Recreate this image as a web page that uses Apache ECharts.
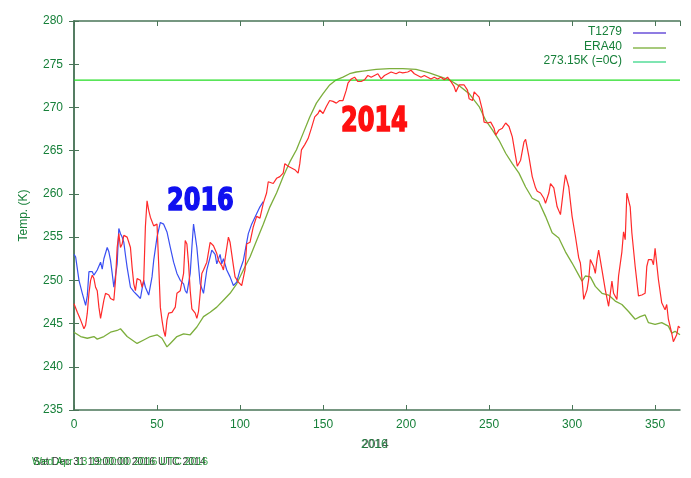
<!DOCTYPE html>
<html>
<head>
<meta charset="utf-8">
<script src="https://cdn.jsdelivr.net/npm/echarts@6/dist/echarts.min.js"></script>
<style>
  html, body { margin: 0; padding: 0; background: #ffffff; }
  #main { width: 691px; height: 478px; }
</style>
</head>
<body>
<div id="main"></div>
<script>
// 2016 run (T1279), days 0..114
var t2016Days = [0, 1, 3, 5, 7, 8, 9, 11, 12, 13, 14, 16, 17, 18, 20, 21, 22, 23, 24, 25, 26, 27, 28, 29, 30, 31, 32, 34, 36, 38, 40, 41, 42, 43, 45, 47, 48, 50, 52, 54, 56, 58, 60, 62, 64, 66, 67, 68, 70, 71, 72, 73, 74, 76, 78, 80, 82, 83, 85, 86, 88, 89, 90, 92, 94, 96, 98, 100, 102, 105, 107, 110, 112, 114];
var t2016Temps = [253, 252.7, 250, 248.5, 247.1, 248.2, 251, 251, 250.6, 250.4, 251.2, 252.1, 251.3, 252.5, 253.8, 253.3, 252.3, 250.8, 249.2, 249, 251.9, 256, 255.4, 255, 254.4, 252.9, 251.5, 249.2, 248.7, 248.3, 247.9, 249, 250, 249.2, 248.3, 250.4, 252.3, 255, 256.7, 256.5, 255.6, 253.8, 252.1, 250.8, 250, 249.6, 248.8, 248.5, 250.8, 253.8, 256.5, 256.7, 253.8, 249.6, 248.5, 251.2, 252.7, 253.5, 253, 251.9, 253, 251.9, 252.5, 251.2, 250.4, 249.4, 249.8, 251.2, 252.3, 255.4, 256.5, 257.7, 258.5, 259.1];

// 2014, whole year
var t2014Days = [0, 2, 4, 6, 7, 8, 9, 10, 11, 12, 13, 14, 15, 16, 17, 18, 19, 20, 21, 22, 24, 25, 26, 27, 28, 29, 30, 32, 33, 34, 35, 36, 37, 38, 40, 41, 42, 43, 44, 45, 46, 48, 49, 50, 51, 52, 53, 54, 55, 56, 57, 59, 61, 62, 64, 66, 67, 68, 69, 70, 71, 73, 74, 75, 76, 77, 78, 80, 82, 84, 85, 86, 87, 89, 90, 91, 93, 94, 96, 97, 99, 101, 102, 103, 104, 106, 108, 110, 112, 114, 116, 117, 118, 120, 122, 124, 126, 127, 129, 131, 133, 135, 136, 137, 139, 141, 143, 145, 147, 148, 150, 152, 154, 156, 158, 160, 162, 164, 165, 167, 169, 171, 173, 175, 177, 179, 181, 183, 185, 187, 189, 191, 194, 196, 198, 201, 203, 205, 207, 209, 211, 213, 215, 217, 219, 221, 223, 225, 227, 229, 230, 232, 235, 237, 238, 240, 241, 242, 244, 246, 247, 249, 251, 253, 254, 256, 258, 260, 262, 264, 266, 267, 269, 271, 272, 274, 276, 278, 279, 281, 283, 284, 286, 287, 289, 291, 293, 295, 296, 298, 300, 302, 304, 305, 306, 307, 309, 310, 311, 313, 314, 315, 316, 318, 320, 322, 323, 324, 325, 327, 328, 330, 331, 332, 333, 335, 336, 338, 340, 342, 344, 345, 346, 348, 349, 350, 352, 354, 356, 357, 358, 360, 361, 363, 364, 365];
var t2014Temps = [247.3, 246.3, 245.4, 244.4, 244.8, 246.2, 248.5, 250, 250.6, 250.2, 249.2, 248.8, 246.9, 245.6, 245.8, 247.7, 248.5, 248.7, 248.3, 247.9, 247.7, 250, 253.8, 255.4, 253.8, 254.2, 255.2, 255, 254.4, 253.8, 251.5, 249.6, 248.8, 250.2, 250, 249.2, 250, 256.2, 259.2, 258.1, 257.3, 256.3, 256.1, 256.5, 251.9, 246.9, 245.4, 244.2, 243.5, 245.4, 246.2, 246.3, 246.9, 248.5, 248.8, 250.8, 254.6, 254.2, 251.9, 248.8, 246.7, 246.2, 245.6, 246.4, 248.5, 250.8, 251.2, 252.1, 254.4, 254, 254.2, 253.1, 252.3, 251.7, 251.2, 252.5, 255, 254.4, 251.7, 250.4, 249.8, 249.4, 249.2, 251.2, 254.2, 254.4, 256.2, 257.4, 257.2, 258.9, 260.1, 261.4, 261.6, 261.2, 261.8, 262, 262.4, 263.5, 263.2, 263, 262.8, 262.4, 263.5, 265.1, 265.7, 266.4, 267.6, 268.9, 269.3, 269.7, 269.3, 270.1, 270.8, 270.7, 270.5, 270.8, 270.8, 272, 272.8, 273.3, 273.5, 273, 273, 273.2, 273.7, 273.5, 273.7, 273.9, 273.3, 273.7, 273.9, 274.1, 273.9, 274.1, 274, 274.1, 274.3, 273.9, 273.7, 273.5, 273.7, 273.5, 273.3, 273.5, 273.3, 273.5, 273.2, 273.5, 273, 272.4, 271.8, 272.6, 272.6, 272, 271, 270.8, 271.8, 272, 271.2, 269.7, 268.3, 268.2, 268.3, 267.6, 266.8, 267.4, 267.6, 268.2, 267.8, 266.6, 264.3, 263.2, 263.9, 266, 266.3, 264.3, 262, 260.7, 260.3, 260.1, 259.5, 258.9, 260.1, 261.2, 260.7, 258.5, 257.6, 260.8, 262.2, 260.8, 257.4, 255.1, 252.6, 252, 250.1, 247.8, 248.9, 250.1, 252.4, 251.6, 250.8, 252.4, 253.5, 251.2, 248.9, 247, 247, 249.9, 248.5, 247.8, 250.5, 253.3, 255.6, 254.7, 260.1, 258.5, 255.5, 251.6, 248.2, 248.3, 248.5, 251.6, 252.4, 252.4, 251.8, 253.7, 250.1, 247.4, 246.6, 247.2, 245.5, 243.9, 242.9, 243.7, 244.7, 244.5];

// ERA40 climatology
var eraDays = [0, 4, 8, 12, 14, 18, 22, 26, 28, 32, 38, 42, 46, 50, 53, 56, 58, 62, 66, 70, 74, 78, 82, 86, 90, 94, 98, 102, 106, 110, 114, 118, 122, 126, 130, 134, 138, 142, 146, 150, 154, 158, 162, 166, 170, 174, 182, 190, 198, 206, 214, 220, 226, 232, 238, 244, 248, 252, 256, 260, 264, 268, 272, 276, 280, 284, 288, 292, 296, 300, 304, 306, 308, 311, 314, 318, 322, 326, 330, 334, 338, 341, 344, 346, 350, 354, 358, 360, 362, 365];
var eraTemps = [244, 243.5, 243.3, 243.5, 243.2, 243.5, 244, 244.2, 244.4, 243.5, 242.7, 243.1, 243.5, 243.7, 243.3, 242.3, 242.7, 243.5, 243.8, 243.7, 244.6, 245.8, 246.3, 246.9, 247.7, 248.5, 249.6, 251.2, 252.7, 254.6, 256.5, 258.5, 260.1, 262, 263.7, 265.1, 267, 268.9, 270.5, 271.6, 272.6, 273.2, 273.5, 273.9, 274.1, 274.2, 274.4, 274.5, 274.5, 274.4, 274, 273.6, 273.2, 272.5, 271.6, 270.1, 268.5, 267.4, 266.2, 264.7, 263.5, 262.4, 260.8, 259.5, 259.1, 257.4, 255.5, 254.9, 253.3, 252, 250.6, 249.9, 250.5, 250.4, 249.3, 248.5, 248.3, 247.6, 247.2, 246.4, 245.5, 245.8, 246, 245.1, 244.9, 245.1, 244.7, 243.9, 244.1, 243.7];

// freezing line 273.15K
var freezeDays = [0, 365];
var freezeTemps = [273.15, 273.15];

var xTicks = [0, 50, 100, 150, 200, 250, 300, 350];
var yTicks = [235, 240, 245, 250, 255, 260, 265, 270, 275, 280];

function zip(xs, ys) {
  return xs.map(function (x, i) { return [x, ys[i]]; });
}

var axisGreen = "#17803a";
var frame = "#4a7558";
var font = "Liberation Sans";

var chart = echarts.init(document.getElementById("main"), null, { renderer: "canvas" });

var option = {
  backgroundColor: "#ffffff",
  animation: false,
  grid: { left: 74, right: 11, top: 21, bottom: 68, containLabel: false },
  xAxis: [
    {
      type: "value",
      min: xTicks[0],
      max: 365,
      interval: 50,
      axisLine: { show: true, lineStyle: { color: frame, width: 1.5 } },
      axisTick: { show: true, inside: true, length: 5, lineStyle: { color: frame } },
      axisLabel: { color: axisGreen, fontFamily: font, fontSize: 12, margin: 9,
        showMaxLabel: false },
      splitLine: { show: false }
    },
    {
      type: "value",
      position: "top",
      min: xTicks[0],
      max: 365,
      interval: 50,
      axisLine: { show: true, lineStyle: { color: frame, width: 1.5 } },
      axisTick: { show: true, inside: true, length: 5, lineStyle: { color: frame } },
      axisLabel: { show: false },
      splitLine: { show: false }
    }
  ],
  yAxis: [
    {
      type: "value",
      min: yTicks[0],
      max: yTicks[yTicks.length - 1],
      interval: 5,
      name: "Temp. (K)",
      nameLocation: "middle",
      nameGap: 44,
      nameTextStyle: { color: axisGreen, fontFamily: font, fontSize: 12 },
      axisLine: { show: true, lineStyle: { color: frame, width: 1.5 } },
      axisTick: { show: true, inside: true, length: 5, lineStyle: { color: frame } },
      axisLabel: { color: axisGreen, fontFamily: font, fontSize: 12, margin: 11 },
      splitLine: { show: false }
    },
    {
      type: "value",
      position: "right",
      min: yTicks[0],
      max: yTicks[yTicks.length - 1],
      interval: 5,
      axisLine: { show: true, lineStyle: { color: frame, width: 1.5 } },
      axisTick: { show: true, inside: true, length: 5, lineStyle: { color: frame } },
      axisLabel: { show: false },
      splitLine: { show: false }
    }
  ],
  series: [
    {
      name: "T1279",
      type: "line",
      data: zip(t2016Days, t2016Temps),
      showSymbol: false,
      lineStyle: { color: "#3a4ff2", width: 1.2 },
      z: 3
    },
    {
      name: "ERA40",
      type: "line",
      data: zip(eraDays, eraTemps),
      showSymbol: false,
      lineStyle: { color: "#7cae3c", width: 1.3 },
      z: 2
    },
    {
      name: "273.15K (=0C)",
      type: "line",
      data: zip(freezeDays, freezeTemps),
      showSymbol: false,
      lineStyle: { color: "#22dd22", width: 1.3 },
      z: 2
    },
    {
      name: "2014",
      type: "line",
      data: zip(t2014Days, t2014Temps),
      showSymbol: false,
      lineStyle: { color: "#ff2a2a", width: 1.2 },
      z: 4
    }
  ],
  graphic: [
    // legend
    { type: "text", right: 69, top: 26, style: { text: "T1279", fill: axisGreen, font: "12px " + font, textAlign: "right" } },
    { type: "line", shape: { x1: 633, y1: 33, x2: 666, y2: 33 }, style: { stroke: "#6a50d8", lineWidth: 1.3 } },
    { type: "text", right: 69, top: 41, style: { text: "ERA40", fill: axisGreen, font: "12px " + font } },
    { type: "line", shape: { x1: 633, y1: 48, x2: 666, y2: 48 }, style: { stroke: "#8ab850", lineWidth: 1.3 } },
    { type: "text", right: 69, top: 55, style: { text: "273.15K (=0C)", fill: axisGreen, font: "12px " + font } },
    { type: "line", shape: { x1: 633, y1: 62, x2: 666, y2: 62 }, style: { stroke: "#55dd99", lineWidth: 1.3 } },

    // year stamps
    { type: "text", x: 341, y: 105, scaleY: 1.4, z: 10,
      style: { text: "2014", fill: "#ff1010", font: "bold 24px 'DejaVu Sans'",
        stroke: "#ff1010", lineWidth: 1.2,
        shadowColor: "#300000", shadowOffsetX: 1.5, shadowOffsetY: 1.5, shadowBlur: 0 } },
    { type: "text", x: 167, y: 186, scaleY: 1.3, z: 10,
      style: { text: "2016", fill: "#1010f0", font: "bold 24px 'DejaVu Sans'",
        stroke: "#1010f0", lineWidth: 1.2,
        shadowColor: "#000030", shadowOffsetX: 1.5, shadowOffsetY: 1.5, shadowBlur: 0 } },

    // x axis label (two overlaid plots)
    { type: "text", left: 362, top: 439, style: { text: "2014", fill: "#555555", font: "12px " + font } },
    { type: "text", left: 361, top: 439, style: { text: "2016", fill: axisGreen, font: "12px " + font, opacity: 0.9 } },

    // time stamps (two overlaid plots)
    { type: "text", left: 33, top: 457, style: { text: "Sat Dec 31 19:00:00 2016 UTC 2014", fill: "#333333", font: "10.5px " + font } },
    { type: "text", left: 32, top: 457, style: { text: "Wed Apr 13 19:00:00 2016 UTC 2016", fill: "#1a9a30", font: "10.5px " + font, opacity: 0.9 } }
  ]
};

chart.setOption(option);
</script>
</body>
</html>
